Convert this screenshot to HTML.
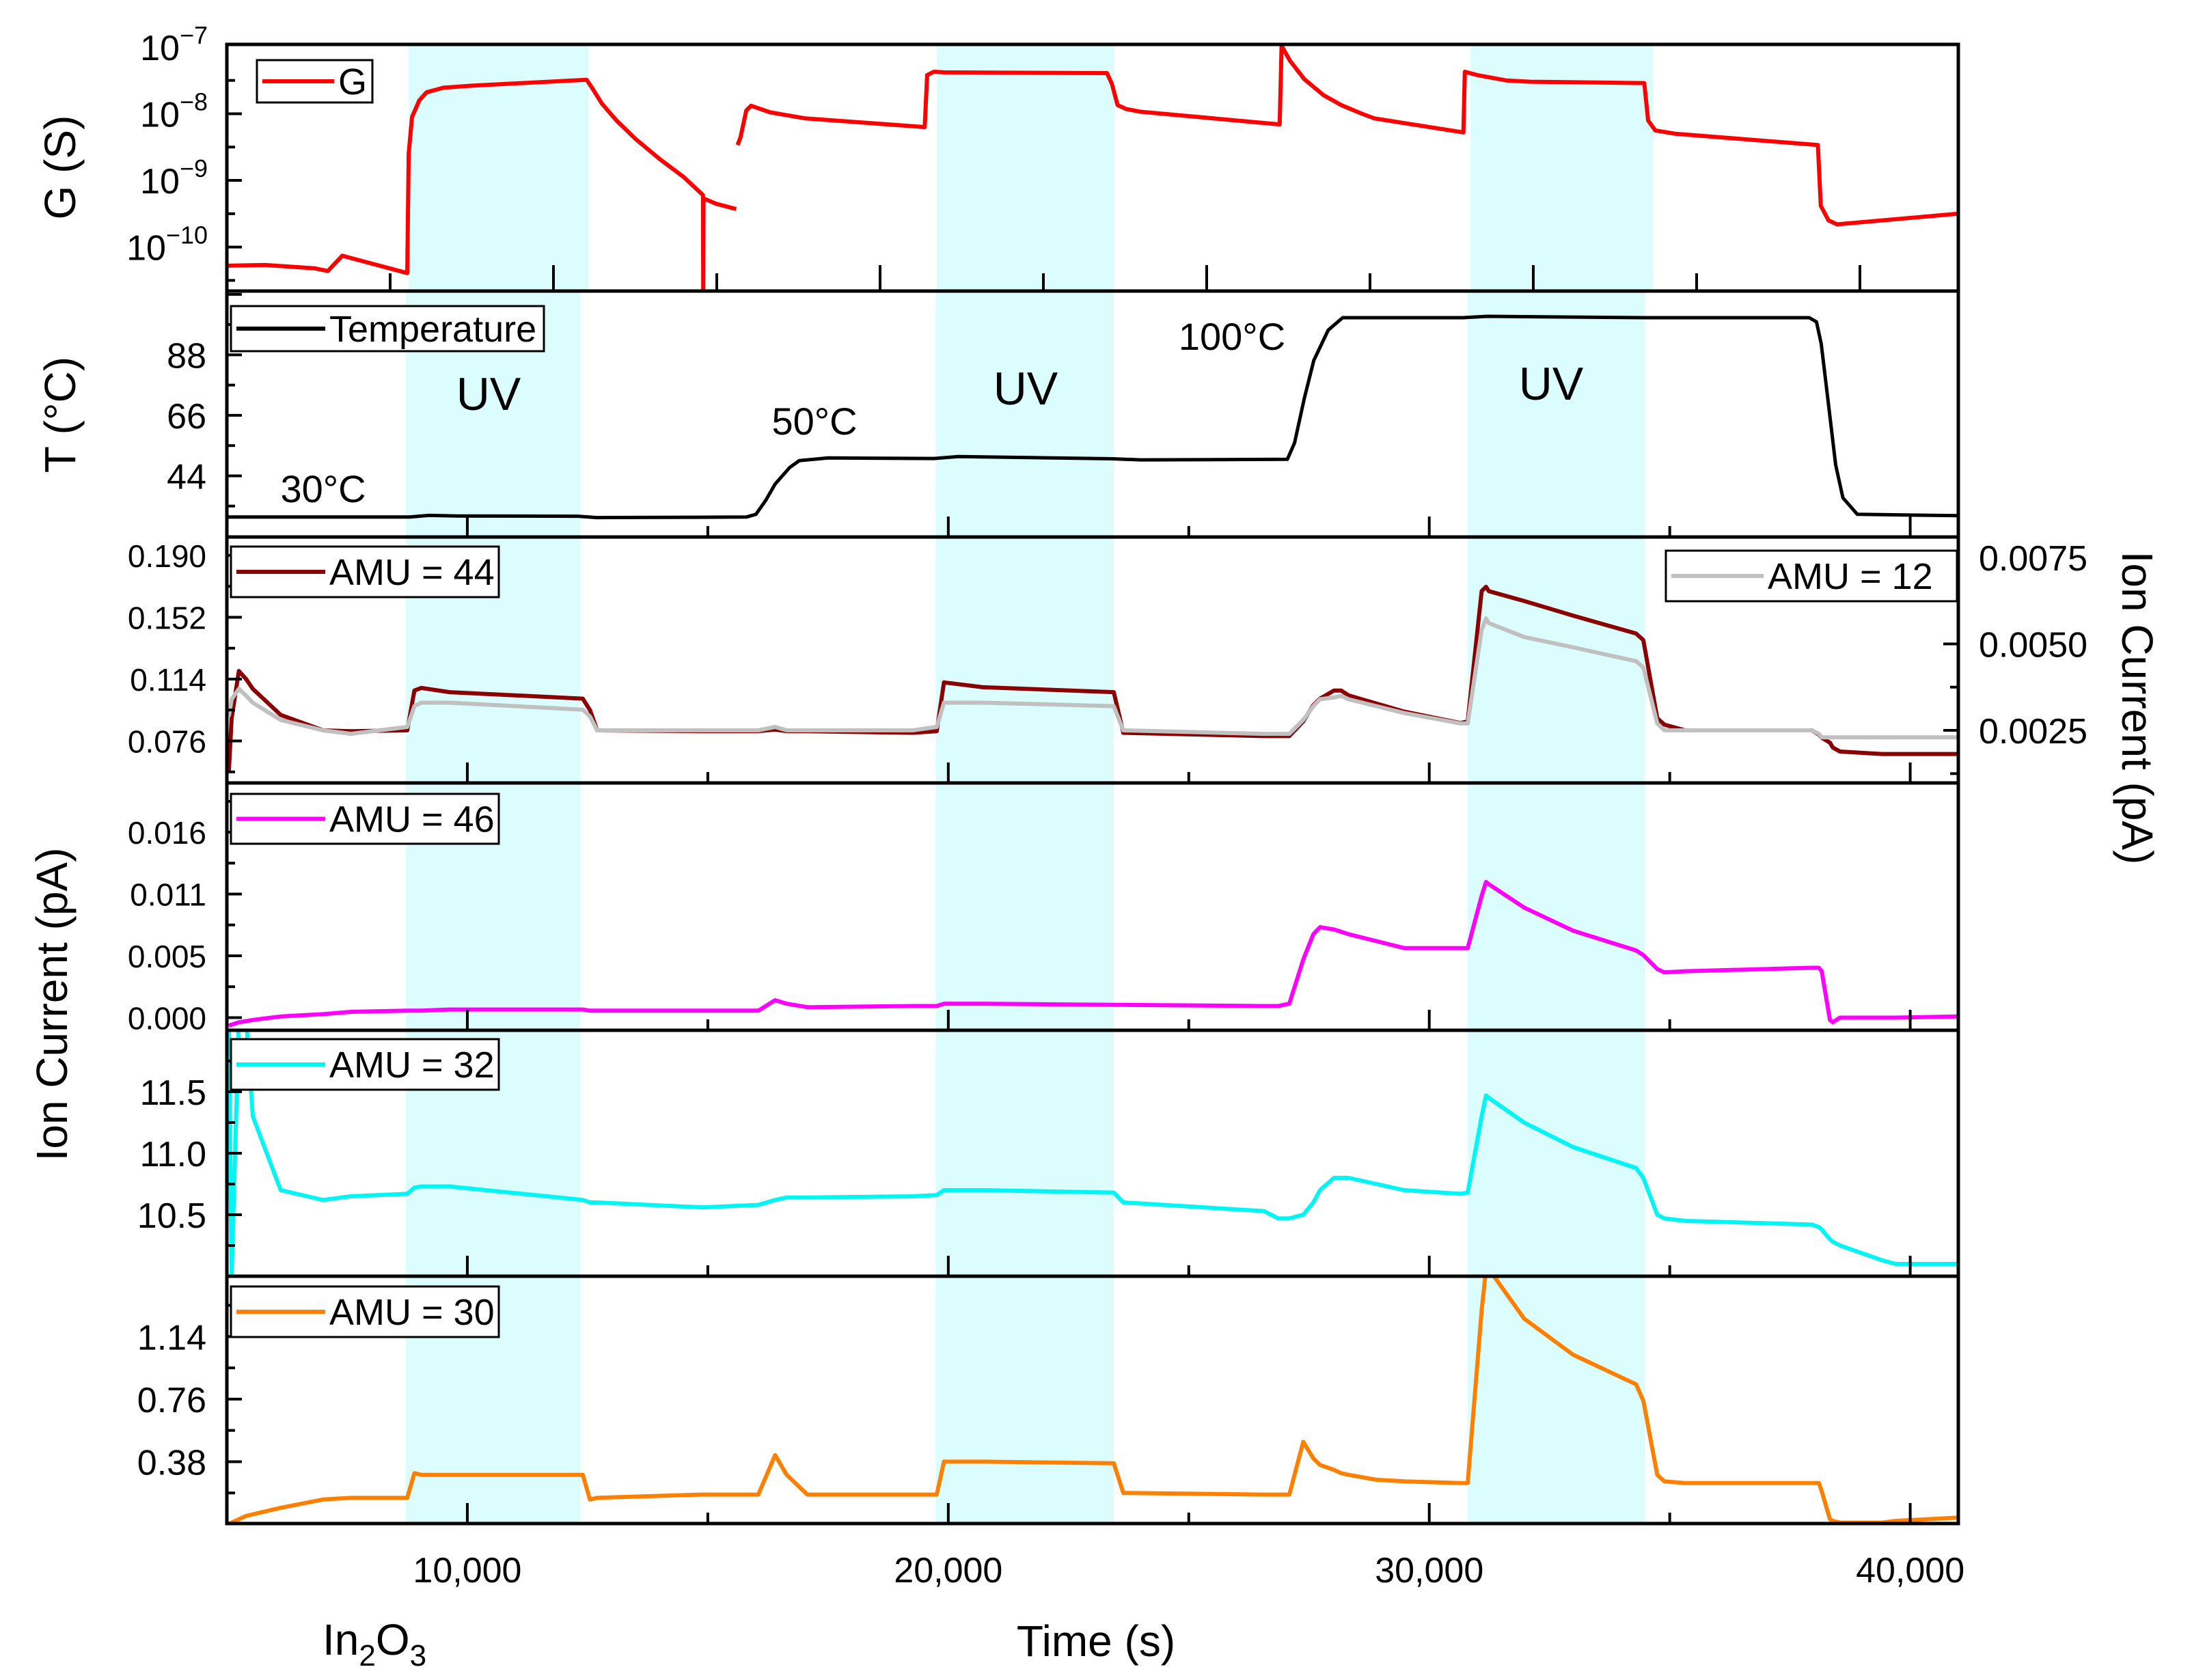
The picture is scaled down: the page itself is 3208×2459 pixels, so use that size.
<!DOCTYPE html>
<html><head><meta charset="utf-8">
<style>
html,body{margin:0;padding:0;background:#fff;}
svg{display:block;}
text{font-family:"Liberation Sans",Arial,sans-serif;fill:#000;}
</style></head>
<body>
<svg id="chart" width="3208" height="2459" viewBox="0 0 3208 2459" xmlns="http://www.w3.org/2000/svg"></svg>
<script>
// ---------- DATA ----------
const timeTickValues = [10000, 20000, 30000, 40000];
const timeTickLabels = ["10,000", "20,000", "30,000", "40,000"];
const uvBandsG = [[8780, 12520], [19760, 23450], [30860, 34660]];
const uvBands = [[8720, 12350], [19740, 23440], [30800, 34480]];

const gTime = [5000, 5800, 6830, 7100, 7400, 8750, 8780, 8850, 9000, 9150, 9500, 10070, 12480, 12600, 12800, 13100, 13500, 14000, 14500, 14900, 14905, 14910, 15170, 15590, null, 15620, 15680, 15800, 15900, 16300, 17030, 19510, 19560, 19700, 19950, 23300, 23400, 23520, 23700, 23990, 26890, 26930, 27100, 27400, 27800, 28170, 28600, 28860, 30710, 30740, 31000, 31600, 32100, 34470, 34550, 34700, 35110, 38080, 38140, 38300, 38480, 41000];
const gLog = [-10.28, -10.27, -10.32, -10.36, -10.13, -10.39, -8.6, -8.05, -7.8, -7.68, -7.61, -7.58, -7.49, -7.62, -7.85, -8.1, -8.38, -8.68, -8.95, -9.22, -10.7, -9.27, -9.35, -9.43, null, -8.47, -8.35, -7.95, -7.88, -7.98, -8.07, -8.2, -7.42, -7.37, -7.38, -7.39, -7.55, -7.87, -7.93, -7.97, -8.16, -6.98, -7.2, -7.48, -7.72, -7.87, -8.0, -8.07, -8.28, -7.37, -7.42, -7.5, -7.52, -7.54, -8.1, -8.25, -8.30, -8.47, -9.38, -9.6, -9.66, -9.50];
const gTickExp = [-7, -8, -9, -10];

const tempTime = [5000, 8800, 9200, 9800, 12300, 12700, 15800, 16000, 16200, 16400, 16700, 16900, 17500, 19700, 20200, 23400, 24000, 27050, 27200, 27400, 27600, 27900, 28200, 30700, 31200, 34500, 37900, 38050, 38150, 38300, 38450, 38600, 38900, 41000];
const tempVal = [29, 29, 29.6, 29.4, 29.3, 28.8, 29, 30, 35, 41, 47, 49.5, 50.5, 50.3, 51, 50.2, 49.8, 50, 56, 72, 86, 97, 101.5, 101.5, 102, 101.5, 101.5, 100, 92, 70, 48, 36, 30, 29.5];
const tempTicks = [44, 66, 88];

const ionTime = [5040, 5100, 5250, 5400, 5540, 6120, 7000, 7580, 8750, 8900, 9040, 9630, 12400, 12550, 12700, 14880, 16050, 16400, 16640, 17070, 19260, 19760, 19910, 20720, 23440, 23640, 26560, 26860, 27090, 27380, 27590, 27730, 28020, 28170, 28320, 28900, 29480, 30650, 30800, 31090, 31180, 31240, 31970, 32990, 34300, 34450, 34740, 34890, 35320, 37950, 38100, 38160, 38330, 38390, 38540, 39410, 39700, 41000];
const amu44 = [0.0565, 0.09, 0.119, 0.114, 0.108, 0.092, 0.0825, 0.082, 0.0825, 0.107, 0.1086, 0.106, 0.102, 0.095, 0.0825, 0.082, 0.082, 0.083, 0.082, 0.082, 0.081, 0.082, 0.112, 0.109, 0.106, 0.081, 0.079, 0.079, 0.079, 0.088, 0.098, 0.102, 0.107, 0.107, 0.104, 0.099, 0.094, 0.087, 0.088, 0.168, 0.1707, 0.168, 0.162, 0.153, 0.142, 0.138, 0.090, 0.086, 0.0825, 0.0825, 0.080, 0.078, 0.075, 0.072, 0.0695, 0.068, 0.068, 0.068];
const amu12 = [0.0029, 0.0034, 0.0037, 0.0035, 0.0033, 0.0028, 0.0025, 0.0024, 0.0026, 0.0032, 0.0033, 0.0033, 0.0031, 0.0029, 0.0025, 0.0025, 0.0025, 0.0026, 0.0025, 0.0025, 0.0025, 0.0026, 0.0033, 0.0033, 0.0032, 0.0025, 0.0024, 0.0024, 0.0024, 0.0028, 0.0032, 0.0034, 0.00345, 0.0035, 0.0034, 0.0032, 0.0030, 0.0027, 0.0027, 0.0054, 0.00574, 0.0056, 0.0052, 0.0049, 0.0045, 0.00432, 0.0027, 0.0025, 0.0025, 0.0025, 0.0024, 0.0023, 0.0023, 0.0023, 0.0023, 0.0023, 0.0023, 0.0023];
const amu46 = [-0.0007, -0.0006, -0.0004, -0.0003, -0.0002, 0.0001, 0.0003, 0.0005, 0.0006, 0.0006, 0.0006, 0.0007, 0.0007, 0.0006, 0.0006, 0.0006, 0.0006, 0.0015, 0.0012, 0.0009, 0.0010, 0.0010, 0.0012, 0.0012, 0.0011, 0.0011, 0.0010, 0.0010, 0.0012, 0.0050, 0.0072, 0.0078, 0.0076, 0.0074, 0.0072, 0.0066, 0.0060, 0.0060, 0.0060, 0.0105, 0.0117, 0.0115, 0.0095, 0.0075, 0.0058, 0.0054, 0.0042, 0.0039, 0.0040, 0.0043, 0.0043, 0.0040, -0.0002, -0.0004, 0.0000, 0.0000, 0.0000, 0.0001];
const amu32 = [12.1, 10.0, 12.1, 12.1, 11.3, 10.7, 10.62, 10.65, 10.67, 10.72, 10.73, 10.73, 10.62, 10.6, 10.6, 10.56, 10.58, 10.62, 10.64, 10.64, 10.65, 10.66, 10.7, 10.7, 10.68, 10.6, 10.53, 10.47, 10.47, 10.5, 10.6, 10.7, 10.8, 10.8, 10.8, 10.75, 10.7, 10.67, 10.68, 11.3, 11.47, 11.45, 11.25, 11.05, 10.88, 10.8, 10.5, 10.47, 10.45, 10.42, 10.4, 10.38, 10.3, 10.28, 10.25, 10.13, 10.1, 10.1];
const amu30 = [0.0, 0.01, 0.03, 0.05, 0.06, 0.1, 0.15, 0.16, 0.16, 0.31, 0.30, 0.30, 0.30, 0.15, 0.16, 0.18, 0.18, 0.42, 0.30, 0.18, 0.18, 0.18, 0.38, 0.38, 0.37, 0.19, 0.18, 0.18, 0.18, 0.50, 0.40, 0.36, 0.33, 0.31, 0.30, 0.27, 0.26, 0.25, 0.25, 1.3, 1.55, 1.55, 1.25, 1.03, 0.85, 0.75, 0.30, 0.26, 0.25, 0.25, 0.25, 0.20, 0.03, 0.02, 0.01, 0.01, 0.02, 0.04];

const ticks44 = [0.076, 0.114, 0.152, 0.190];
const ticks12 = [0.0025, 0.005, 0.0075];
const ticks46 = [0, 0.00533, 0.01067, 0.016];
const ticks46Labels = ["0.000", "0.005", "0.011", "0.016"];
const ticks32 = [10.5, 11.0, 11.5];
const ticks30 = [0.38, 0.76, 1.14];

// ---------- LAYOUT ----------
const NS = "http://www.w3.org/2000/svg";
const svg = document.getElementById('chart');
const L = 332, R = 2866;
const X0 = 5000, X1 = 41000;
function xs(t){ return L + (t - X0) / (X1 - X0) * (R - L); }
function gxs(v){ return 332 + v * 0.0478; }

function el(tag, attrs, parent){
  const e = document.createElementNS(NS, tag);
  for (const k in attrs) e.setAttribute(k, attrs[k]);
  (parent || svg).appendChild(e);
  return e;
}
function txt(x, y, s, size, anchor, parent){
  const t = el('text', {x:x, y:y, 'font-size':size, 'text-anchor':anchor||'middle'}, parent);
  t.textContent = s;
  return t;
}
function linScale(d0, d1, top, bot){ return v => bot - (v - d0) / (d1 - d0) * (bot - top); }

const panels = [
  {name:'g', top:65, bot:426, d0:-10.66, d1:-6.96},
  {name:'temp', top:426, bot:786, d0:21.75, d1:111.2},
  {name:'amu44', top:786, bot:1146, d0:0.0502, d1:0.2013},
  {name:'amu46', top:1146, bot:1508, d0:-0.00109, d1:0.02024},
  {name:'amu32', top:1508, bot:1868, d0:10.0, d1:12.0},
  {name:'amu30', top:1868, bot:2230, d0:0.004, d1:1.507}
];
panels.forEach(p => p.y = linScale(p.d0, p.d1, p.top, p.bot));

const defs = el('defs', {});
panels.forEach(p => {
  const cp = el('clipPath', {id:'clip-' + p.name}, defs);
  el('rect', {x:L, y:p.top, width:R-L, height:p.bot-p.top}, cp);
});

panels.forEach(p => {
  const bands = p.name === 'g' ? uvBandsG : uvBands;
  bands.forEach((b, i) => {
    const r = el('rect', {x:xs(b[0]), y:p.top, width:xs(b[1]) - xs(b[0]), height:p.bot - p.top, fill:'#dcfdfd'});
    
    
  });
});

function drawLine(p, times, vals, color, width, name, yfn){
  const y = yfn || p.y;
  let d = '', pen = false;
  for (let i = 0; i < times.length; i++){
    if (times[i] === null || vals[i] === null){ pen = false; continue; }
    d += (pen ? 'L' : 'M') + xs(times[i]).toFixed(1) + ',' + y(vals[i]).toFixed(1);
    pen = true;
  }
  const path = el('path', {d:d, fill:'none', stroke:color, 'stroke-width':width, 'stroke-linejoin':'round', 'clip-path':'url(#clip-' + p.name + ')'});
  
  
  return path;
}

drawLine(panels[0], gTime, gLog, '#ff0000', 6, 'g-line');
drawLine(panels[1], tempTime, tempVal, '#000000', 5, 'temperature-line');
const y12 = linScale(0.00098, 0.00809, 786, 1146);
drawLine(panels[2], ionTime, amu44, '#8b0000', 6, 'amu44-line');
drawLine(panels[2], ionTime, amu12, '#c0c0c0', 6, 'amu12-line', y12);
drawLine(panels[3], ionTime, amu46, '#ff00ff', 6, 'amu46-line');
drawLine(panels[4], ionTime, amu32, '#00f5f5', 6, 'amu32-line');
drawLine(panels[5], ionTime, amu30, '#ff8000', 6, 'amu30-line');

const axisG = el('g', {stroke:'#000', 'stroke-width':5, fill:'none'});


panels.forEach(p => {
  el('rect', {x:L, y:p.top, width:R-L, height:p.bot-p.top}, axisG);
});
panels.forEach((p, i) => {
  if (i === 0){
    for (let v = 5000; v <= 53000; v += 5000){
      const x = gxs(v);
      if (x < L + 5 || x > R - 5) continue;
      const len = v % 10000 === 0 ? 38 : 26;
      el('line', {x1:x, y1:p.bot, x2:x, y2:p.bot - len, 'stroke-width':4}, axisG);
    }
  } else {
    for (let v = 10000; v <= 40000; v += 5000){
      const x = xs(v);
      const len = v % 10000 === 0 ? 30 : 16;
      el('line', {x1:x, y1:p.bot, x2:x, y2:p.bot - len, 'stroke-width':4}, axisG);
    }
  }
});
function yTicks(p, vals, yfn, right){
  const y = yfn || p.y;
  const step = vals[1] - vals[0];
  const all = [];
  for (let k = -4; k < vals.length * 2 + 4; k++){
    const v = vals[0] + k * step / 2;
    all.push([v, k % 2 === 0]);
  }
  all.forEach(([v, major]) => {
    const yy = y(v);
    if (yy < p.top + 4 || yy > p.bot - 4) return;
    const len = major ? 22 : 12;
    if (right) el('line', {x1:R, y1:yy, x2:R - len, y2:yy, 'stroke-width':4}, axisG);
    else el('line', {x1:L, y1:yy, x2:L + len, y2:yy, 'stroke-width':4}, axisG);
  });
}
[-7, -7.5, -8, -8.5, -9, -9.5, -10, -10.5].forEach(v => {
  const yy = panels[0].y(v);
  if (yy < panels[0].top + 4 || yy > panels[0].bot - 4) return;
  const len = Number.isInteger(v) ? 22 : 12;
  el('line', {x1:L, y1:yy, x2:L + len, y2:yy, 'stroke-width':4}, axisG);
});
yTicks(panels[1], tempTicks);
yTicks(panels[2], ticks44);
yTicks(panels[2], ticks12, y12, true);
yTicks(panels[3], ticks46);
yTicks(panels[4], ticks32);
yTicks(panels[5], ticks30);

const FS = 52;
const lblG = el('g', {});


gTickExp.forEach(e => {
  const yy = panels[0].y(e);
  const t = el('text', {x:304, y:yy + 19, 'font-size':FS, 'text-anchor':'end'}, lblG);
  t.textContent = '10';
  const s = el('tspan', {dy:-24, 'font-size':36}, t);
  s.textContent = '\u2212' + Math.abs(e);
});
tempTicks.forEach(v => txt(302, panels[1].y(v) + 19, String(v), FS, 'end', lblG));
ticks44.forEach(v => { const t = txt(302, panels[2].y(v) + 17, v.toFixed(3), 46, 'end', lblG); t.setAttribute('font-family', '"DejaVu Sans", sans-serif'); });
ticks12.forEach(v => txt(2896, y12(v) + 19, v.toFixed(4), FS, 'start', lblG));
ticks46.forEach((v, i) => { const t = txt(302, panels[3].y(v) + 17, ticks46Labels[i], 46, 'end', lblG); t.setAttribute('font-family', '"DejaVu Sans", sans-serif'); });
ticks32.forEach(v => txt(302, panels[4].y(v) + 19, v.toFixed(1), FS, 'end', lblG));
ticks30.forEach(v => txt(302, panels[5].y(v) + 19, v.toFixed(2), FS, 'end', lblG));
timeTickValues.forEach((v, i) => txt(xs(v), 2316, timeTickLabels[i], FS, 'middle', lblG));

function rotTitle(x, y, s, rot, name){
  const t = el('text', {x:x, y:y, 'font-size':64, 'text-anchor':'middle', transform:'rotate(' + rot + ' ' + x + ' ' + y + ')'});
  t.textContent = s;
  
  
}
rotTitle(110, 245, 'G (S)', -90, 'g-axis-title');
rotTitle(110, 607, 'T (\u00b0C)', -90, 'temperature-axis-title');
rotTitle(98, 1470, 'Ion Current (pA)', -90, 'ion-current-axis-title');
rotTitle(3106, 1036, 'Ion Current (pA)', 90, 'right-ion-current-axis-title');
const xt = txt(1604, 2424, 'Time (s)', 64, 'middle');


const mat = el('text', {x:472, y:2422, 'font-size':64});


mat.textContent = 'In';
const s1 = el('tspan', {dy:16, 'font-size':44}, mat); s1.textContent = '2';
const s2 = el('tspan', {dy:-16, 'font-size':64}, mat); s2.textContent = 'O';
const s3 = el('tspan', {dy:16, 'font-size':44}, mat); s3.textContent = '3';

[['30\u00b0C', 473, 735, 'label-30c'], ['50\u00b0C', 1192, 636, 'label-50c'], ['100\u00b0C', 1803, 512, 'label-100c'],
 ['UV', 715, 600, 'uv-label-1'], ['UV', 1501, 592, 'uv-label-2'], ['UV', 2270, 585, 'uv-label-3']].forEach(a => {
  const t = txt(a[1], a[2], a[0], a[0] === 'UV' ? 68 : 56, 'middle');
  
  
});

function legend(x, y, w, h, color, label, name, lineLen){
  const g = el('g', {});
  
  
  el('rect', {x:x, y:y, width:w, height:h, fill:'#fff', stroke:'#000', 'stroke-width':3}, g);
  el('line', {x1:x + 8, y1:y + h/2, x2:x + 8 + lineLen, y2:y + h/2, stroke:color, 'stroke-width':6}, g);
  txt(x + 14 + lineLen, y + h/2 + 19, label, 54, 'start', g);
}
legend(376, 88, 169, 62, '#ff0000', 'G', 'legend-g', 105);
legend(338, 448, 458, 66, '#000000', 'Temperature', 'legend-temperature', 130);
legend(338, 800, 392, 74, '#8b0000', 'AMU = 44', 'legend-amu44', 130);
legend(2438, 806, 426, 74, '#c0c0c0', 'AMU = 12', 'legend-amu12', 135);
legend(338, 1162, 392, 73, '#ff00ff', 'AMU = 46', 'legend-amu46', 130);
legend(338, 1521, 392, 74, '#00f5f5', 'AMU = 32', 'legend-amu32', 130);
legend(338, 1883, 392, 74, '#ff8000', 'AMU = 30', 'legend-amu30', 130);
</script>
</body></html>
